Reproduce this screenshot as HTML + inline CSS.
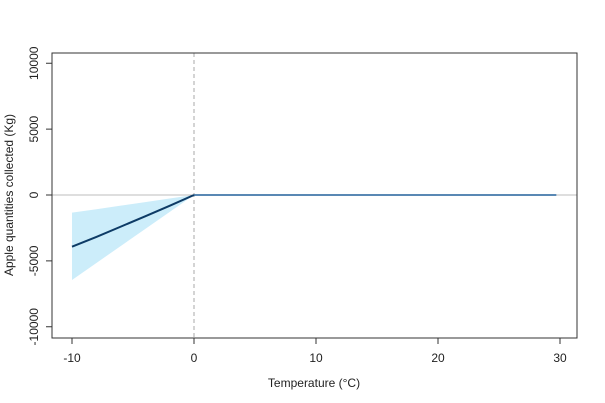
<!DOCTYPE html>
<html><head><meta charset="utf-8"><style>
html,body{margin:0;padding:0;background:#fff;}
svg{display:block;font-family:"Liberation Sans",Arial,sans-serif;}
</style></head><body>
<svg id="chart" width="605" height="403" viewBox="0 0 605 403">
<rect width="605" height="403" fill="#fff"/>
<g id="plot"></g>
</svg>
<script>
const xTicks=[-10,0,10,20,30];
const yTicks=[-10000,-5000,0,5000,10000];
const xs=[-10,-8,-6,-4,-2,0,5,10,15,20,25,29.7];
const fit=[-3920,-3180,-2400,-1620,-820,0,0,0,0,0,0,0];
const upper=[-1340,-1080,-810,-540,-270,0,0,0,0,0,0,0];
const lower=[-6450,-5160,-3870,-2580,-1290,0,0,0,0,0,0,0];
const L=52,R=577,T=53,B=338;
const sx=v=>194+(v-0)*12.2;
const sy=v=>195-v*0.013175;
const g=document.getElementById('plot');
const NS='http://www.w3.org/2000/svg';
function mk(t,a){const e=document.createElementNS(NS,t);for(const k in a)e.setAttribute(k,a[k]);g.appendChild(e);return e;}
let pts=xs.map((x,i)=>sx(x)+','+sy(upper[i]));
for(let i=xs.length-1;i>=0;i--)pts.push(sx(xs[i])+','+sy(lower[i]));
let band=mk('polygon',{points:pts.join(' '),fill:'#ccedfa'});


let zl=mk('line',{x1:L,x2:R,y1:sy(0),y2:sy(0),stroke:'#bdbdbd','stroke-width':1});


let vl=mk('line',{x1:sx(0),x2:sx(0),y1:T,y2:B,stroke:'#aaa','stroke-width':1,'stroke-dasharray':'4,3'});


let neg=[],pos=[];
xs.forEach((x,i)=>{if(x<=0)neg.push(sx(x)+','+sy(fit[i]));if(x>=0)pos.push(sx(x)+','+sy(fit[i]));});
let ln2=mk('polyline',{points:pos.join(' '),fill:'none',stroke:'#22609c','stroke-width':1.6});


let ln=mk('polyline',{points:neg.join(' '),fill:'none',stroke:'#0d3b66','stroke-width':2});


let box=mk('rect',{x:L,y:T,width:R-L,height:B-T,fill:'none',stroke:'#333','stroke-width':1});


xTicks.forEach(v=>{
 let t=mk('line',{x1:sx(v),x2:sx(v),y1:B,y2:B+6,stroke:'#333'});
 
 
 let s=mk('text',{x:sx(v),y:B+24,'text-anchor':'middle','font-size':12,fill:'#222'});s.textContent=v;
 
 
});
yTicks.forEach(v=>{
 let t=mk('line',{x1:L,x2:L-6,y1:sy(v),y2:sy(v),stroke:'#333'});
 
 
 let s=mk('text',{x:0,y:0,'text-anchor':'middle','font-size':12,fill:'#222',transform:`translate(38,${sy(v)}) rotate(-90)`});s.textContent=v;
 
 
});
let xt=mk('text',{x:314,y:387,'text-anchor':'middle','font-size':12,fill:'#222'});xt.textContent='Temperature (°C)';


let yt=mk('text',{x:0,y:0,'text-anchor':'middle','font-size':12,fill:'#222',transform:'translate(13,195) rotate(-90)'});yt.textContent='Apple quantities collected (Kg)';


</script>
</body></html>
